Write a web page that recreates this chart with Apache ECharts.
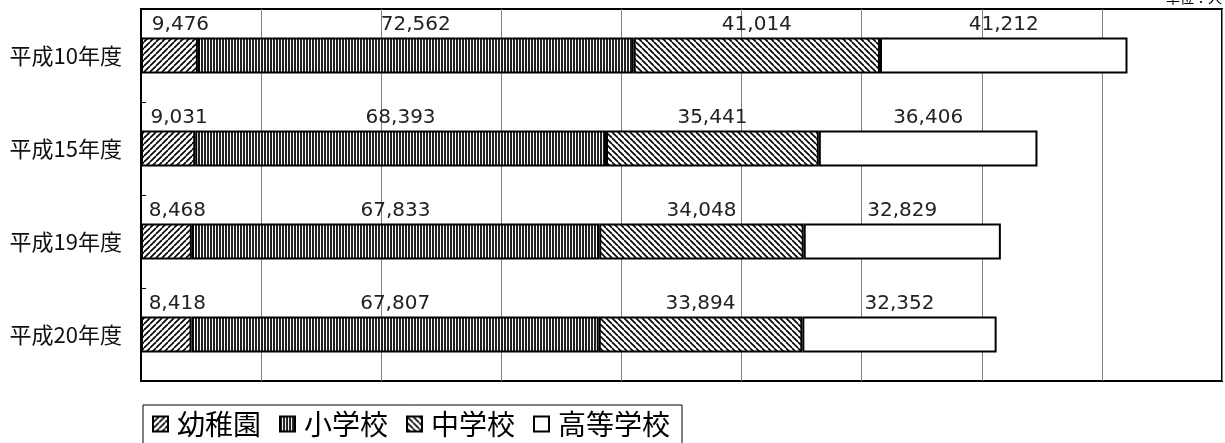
<!DOCTYPE html>
<html><head><meta charset="utf-8">
<script src="https://cdn.jsdelivr.net/npm/echarts@6/dist/echarts.min.js"></script>
<style>html,body{margin:0;padding:0;background:#fff}#c{width:1225px;height:443px}</style>
</head><body><div id="c"></div>
<script>
const categories = ['平成10年度','平成15年度','平成19年度','平成20年度'];
const seriesNames = ['幼稚園','小学校','中学校','高等学校'];
const kindergarten = [9476, 9031, 8468, 8418];
const elementary = [72562, 68393, 67833, 67807];
const juniorHigh = [41014, 35441, 34048, 33894];
const highSchool = [41212, 36406, 32829, 32352];
const unitLabel = '単位：人';

function pattern(kind){
  if (kind === 'vert'){
    const c2 = document.createElement('canvas');
    c2.width = 3; c2.height = 3;
    const h = c2.getContext('2d');
    h.fillStyle = '#fff'; h.fillRect(0,0,3,3);
    h.fillStyle = '#222'; h.fillRect(0,0,2,3);
    return {image: c2, repeat: 'repeat'};
  }
  const s = 6;
  const c = document.createElement('canvas');
  c.width = s; c.height = s;
  const g = c.getContext('2d');
  g.fillStyle = '#fff'; g.fillRect(0,0,s,s);
  g.strokeStyle = '#000'; g.lineWidth = 1.6;
  g.beginPath();
  for (let k=-1;k<=1;k++){
    if (kind === 'fwd'){ g.moveTo(k*s, s); g.lineTo(k*s+s, 0); }
    else { g.moveTo(k*s, 0); g.lineTo(k*s+s, s); }
  }
  g.stroke();
  return {image: c, repeat: 'repeat'};
}
const fills = [pattern('fwd'), pattern('vert'), pattern('back'), '#ffffff'];
const dataSets = [kindergarten, elementary, juniorHigh, highSchool];
const labelShift = [11, 0, 0, 0];

const chart = echarts.init(document.getElementById('c'));
chart.setOption({
  animation: false,
  textStyle: {fontFamily: 'DejaVu Sans, sans-serif'},
  grid: {left: 141, right: 3, top: 9, bottom: 62, show: true, borderColor: '#000', borderWidth: 2},
  xAxis: {type: 'value', min: 0, max: 180000, interval: 20000,
    axisLabel: {show: false}, axisTick: {show: false}, axisLine: {show: false},
    splitLine: {show: true, lineStyle: {color: '#808080', width: 1}}},
  yAxis: {type: 'category', data: categories, inverse: true,
    axisLine: {show: true, lineStyle: {color: '#000', width: 2}},
    axisTick: {show: true, inside: true, length: 5, lineStyle: {color: '#000'}},
    axisLabel: {color: '#111', fontSize: 22, margin: 19, fontFamily: 'Noto Sans CJK JP, sans-serif'}},
  legend: {left: 143, top: 405, orient: 'horizontal', itemWidth: 15, itemHeight: 15, itemGap: 18,
    padding: [5, 12, 10, 9], borderColor: '#000', borderWidth: 1, icon: 'rect',
    itemStyle: {borderColor: '#000', borderWidth: 2},
    textStyle: {color: '#000', fontSize: 28, fontFamily: 'Noto Sans CJK JP, sans-serif', padding: [0,0,0,4]},
    data: seriesNames},
  graphic: [{type: 'text', right: 3, top: -9, style: {text: unitLabel, fontSize: 14, fill: '#000', fontFamily: 'Noto Sans CJK JP, sans-serif'}}],
  series: seriesNames.map((n, i) => ({
    name: n, type: 'bar', stack: 'total', barWidth: 36, data: dataSets[i],
    itemStyle: {color: fills[i], borderColor: '#000', borderWidth: 2},
    label: {show: true, position: 'top', distance: 3, offset: [labelShift[i], 0], color: '#222', fontSize: 20,
      fontFamily: 'DejaVu Sans, sans-serif',
      formatter: p => p.value.toLocaleString('en-US')}
  }))
});
</script></body></html>
